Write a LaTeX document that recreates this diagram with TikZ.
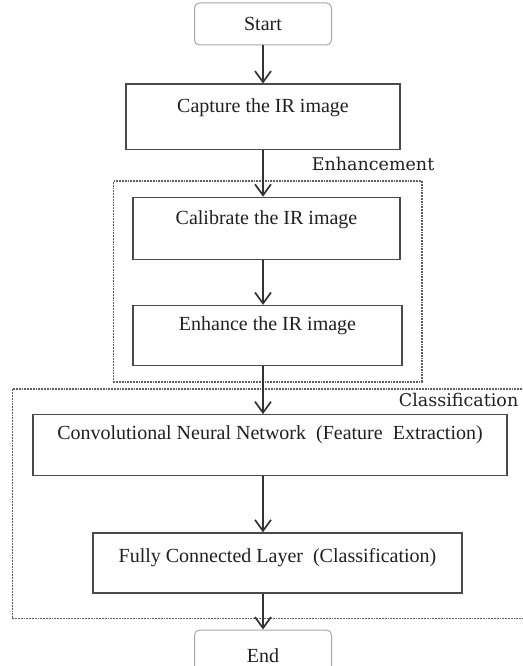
\documentclass[tikz,border=0pt]{standalone}
\usepackage{fontspec}
\setmainfont{Liberation Serif}
\newfontfamily\groupfont{DejaVu Serif}
\usepackage{tikz}
\usetikzlibrary{arrows.meta,positioning,fit}
\definecolor{BoxLine}{HTML}{4A4A4A}
\definecolor{TermLine}{HTML}{A8A8A8}
\definecolor{GroupLine}{HTML}{5E5E5E}
\definecolor{ArrowLine}{HTML}{333333}
\definecolor{TextMain}{HTML}{202020}
\tikzset{
  termnode/.style={draw=TermLine,line width=1pt,rounded corners=5pt,fill=white,minimum width=137pt,inner sep=0pt,text=TextMain,font=\fontsize{20}{23}\selectfont},
  procnode/.style={draw=BoxLine,line width=1.2pt,fill=white,inner sep=0pt,text height=27pt,text=TextMain,font=\fontsize{20}{23}\selectfont},
  groupbox/.style={draw=GroupLine,densely dotted,line width=1.8pt},
  grouplabel/.style={inner sep=0pt,text=TextMain,font=\groupfont\fontsize{17.5}{20}\selectfont},
  flowarrow/.style={-{Straight Barb[length=11pt,width=16pt]},line width=1.7pt,draw=ArrowLine}
}
\begin{document}
\begin{tikzpicture}[x=1pt,y=-1pt,node distance=40pt]
\useasboundingbox (0,0) rectangle (522,666);
\node[termnode,text height=28pt,text depth=14pt] (start) at (263,24) {Start};
\node[procnode,below=38pt of start,minimum width=274pt,text height=28pt,text depth=37pt] (capture) {Capture the IR image};
\node[procnode,below=47pt of capture,xshift=3.5pt,minimum width=267pt,text depth=35pt] (calibrate) {Calibrate the IR image};
\node[procnode,below=45pt of calibrate,xshift=1pt,minimum width=269pt,text height=25pt,text depth=35pt] (enhance) {Enhance the IR image};
\node[procnode,below=48pt of enhance,xshift=2.5pt,minimum width=474pt,text height=25pt,text depth=36pt] (cnn) {Convolutional Neural Network\ \ (Feature\ \ Extraction)};
\node[procnode,below=56pt of cnn,xshift=7.5pt,minimum width=369pt,text height=30pt,text depth=30pt] (fc) {Fully Connected Layer\ \ (Classification)};
\node[termnode,below=36pt of fc,xshift=-14.5pt,text height=32pt,text depth=10pt] (end) {End};

\node[groupbox,fit=(calibrate)(enhance),inner xsep=19pt,inner ysep=15.5pt] (enhgroup) {};
\node[groupbox,fit=(cnn)(fc),inner xsep=20pt,inner ysep=25pt] (clsgroup) {};
\node[grouplabel,anchor=base east] (enhlabel) at ([xshift=12pt,yshift=9.5pt]enhgroup.north east) {Enhancement};
\node[grouplabel,anchor=base east] (clslabel) at ([xshift=-10pt,yshift=-18pt]clsgroup.north east) {Classification};

\draw[flowarrow] (start) -- (start |- capture.north);
\draw[flowarrow] (capture) -- (capture |- calibrate.north);
\draw[flowarrow] (capture |- calibrate.south) -- (capture |- enhance.north);
\draw[flowarrow] (capture |- enhance.south) -- (capture |- cnn.north);
\draw[flowarrow] (capture |- cnn.south) -- (capture |- fc.north);
\draw[flowarrow] (capture |- fc.south) -- (end);
\end{tikzpicture}
\end{document}
